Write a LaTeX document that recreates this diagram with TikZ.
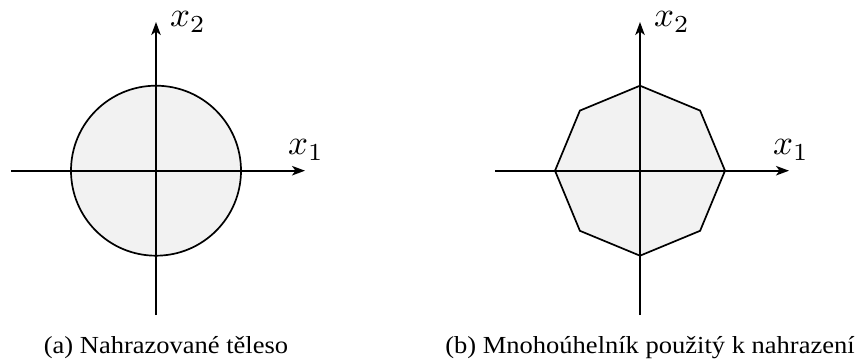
\documentclass[tikz,border=0pt]{standalone}
\usepackage{fontspec}
\setmainfont{Liberation Serif}
\usetikzlibrary{arrows.meta,calc}
\begin{document}
\begin{tikzpicture}[x=1pt,y=-1pt,
  axis/.style={line width=1.7pt,-{Stealth[length=13pt,width=9.5pt,inset=3.5pt]}},
  solid body/.style={line width=1.7pt,fill=gray!10,draw=black},
  lbl/.style={scale=3.5,inner sep=0pt},
  captext/.style={font=\fontsize{24.5}{28}\selectfont,xscale=1.082,inner sep=0pt,anchor=base}]
\useasboundingbox (0,0) rectangle (858,361);
% left
\coordinate (ac) at (156,170.7);
\draw[solid body] (ac) circle[radius=85];
\coordinate (aw) at (11,170.7);
\coordinate (ae) at (305,170.7);
\coordinate (as) at (156,315);
\coordinate (an) at (156,22);
\draw[axis] (aw) -- (ae);
\draw[axis] (as) -- (an);
\node[lbl] (ax1) at (306,150) {$x_1$};
\node[lbl] (ax2) at (188,22) {$x_2$};
\node[captext] (capa) at (166,353) {(a) Nahrazované těleso};
% right
\coordinate (bc) at (640,170.7);
\draw[solid body] ($(bc)+(0:85)$) -- ($(bc)+(45:85)$) -- ($(bc)+(90:85)$) -- ($(bc)+(135:85)$) -- ($(bc)+(180:85)$) -- ($(bc)+(225:85)$) -- ($(bc)+(270:85)$) -- ($(bc)+(315:85)$) -- cycle;
\coordinate (bw) at (495,170.7);
\coordinate (be) at (789,170.7);
\coordinate (bs) at (640,315);
\coordinate (bn) at (640,22);
\draw[axis] (bw) -- (be);
\draw[axis] (bs) -- (bn);
\node[lbl] (bx1) at (791,150) {$x_1$};
\node[lbl] (bx2) at (672,22) {$x_2$};
\node[captext] (capb) at (650,353) {(b) Mnohoúhelník použitý k nahrazení};
\end{tikzpicture}
\end{document}
